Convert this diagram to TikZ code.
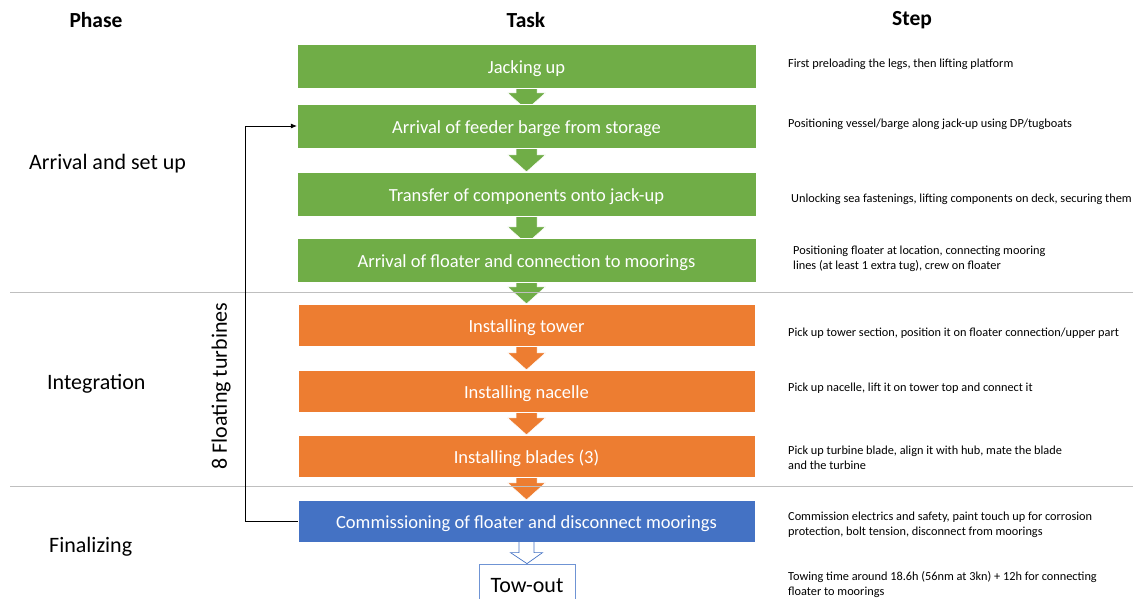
\documentclass[tikz,border=0pt]{standalone}
\usepackage{fontspec}
\setmainfont{Carlito}
\usetikzlibrary{calc,backgrounds,arrows.meta}
\definecolor{cgreen}{HTML}{70AD47}
\definecolor{corange}{HTML}{ED7D31}
\definecolor{cblue}{HTML}{4472C4}
\definecolor{clblue}{HTML}{6F94D4}
\definecolor{csep}{HTML}{BFBFBF}
\newcommand\blkarr[4]{%
  \fill[#3,draw=white,line width=0.5pt] let \p1=(#1.south), \p2=(#2.north) in
    (\x1-10.5pt,\y1+2pt) -- (\x1-10.5pt,\y2+17pt-#4) -- (\x1-19pt,\y2+17pt-#4) --
    (\x2,\y2-#4) -- (\x1+19pt,\y2+17pt-#4) -- (\x1+10.5pt,\y2+17pt-#4) --
    (\x1+10.5pt,\y1+2pt) -- cycle;}
\begin{document}
\begin{tikzpicture}[x=1pt,y=-1pt,
  task/.style={rectangle,draw=white,line width=0.4pt,text=white,minimum width=459pt,minimum height=44pt,inner sep=0pt,text height=15pt,text depth=1pt,font=\fontsize{18.5}{22}\selectfont},
  gtask/.style={task,fill=cgreen},
  otask/.style={task,fill=corange,minimum width=457pt,minimum height=42pt},
  btask/.style={task,fill=cblue,minimum width=457pt,minimum height=42pt},
  steptxt/.style={anchor=west,align=left,inner sep=0pt,font=\fontsize{12.3}{15}\selectfont},
  phase/.style={anchor=west,inner sep=0pt,font=\fontsize{22}{26}\selectfont},
  head/.style={inner sep=0pt,font=\fontsize{21.5}{25}\selectfont\bfseries},
  sep/.style={draw=csep,line width=0.8pt}]
\useasboundingbox (0,0) rectangle (1137,598);
% headers
\node[head] (hphase) at (96,20) {Phase};
\node[head] (htask) at (526,20) {Task};
\node[head] (hstep) at (912,20) {Step};
% separators
\coordinate (s1a) at (10,292); \coordinate (s1b) at (1133,292);
\coordinate (s2a) at (10,486); \coordinate (s2b) at (1133,486);
\draw[sep] (s1a) -- (s1b);
\draw[sep] (s2a) -- (s2b);
% phases
\node[phase] (p1) at (29,163.5) {Arrival and set up};
\node[phase] (p2) at (47,383.5) {Integration};
\node[phase] (p3) at (49,546.5) {Finalizing};
% tasks
\node[gtask] (g1) at (526.5,66) {Jacking up};
\node[gtask] (g2) at (526.5,126) {Arrival of feeder barge from storage};
\node[gtask] (g3) at (526.5,194) {Transfer of components onto jack-up};
\node[gtask] (g4) at (526.5,260) {Arrival of floater and connection to moorings};
\node[otask] (o1) at (526.5,325) {Installing tower};
\node[otask] (o2) at (526.5,391) {Installing nacelle};
\node[otask] (o3) at (526.5,456) {Installing blades (3)};
\node[btask] (b1) at (526.5,521) {Commissioning of floater and disconnect moorings};
\node[draw=clblue,fill=white,line width=0.8pt,minimum width=96pt,minimum height=44pt,inner sep=0pt,font=\fontsize{22}{26}\selectfont] (tow) at (527,586) {Tow-out};
% arrows behind
\begin{scope}[on background layer]
\blkarr{g1}{g2}{cgreen}{6pt}
\blkarr{g2}{g3}{cgreen}{0pt}
\blkarr{g3}{g4}{cgreen}{6pt}
\blkarr{g4}{o1}{cgreen}{0pt}
\blkarr{o1}{o2}{corange}{0pt}
\blkarr{o2}{o3}{corange}{0pt}
\blkarr{o3}{b1}{corange}{0pt}
\end{scope}
% hollow arrow to tow-out
\draw[cblue,fill=white,line width=0.7pt] let \p1=(b1.south), \p2=(tow.north) in
  (\x1-7.5pt,\y1) -- (\x1-7.5pt,\y2+11pt) -- (\x1-16pt,\y2+11pt) -- (\x2,\y2) --
  (\x1+16pt,\y2+11pt) -- (\x1+7.5pt,\y2+11pt) -- (\x1+7.5pt,\y1);
% loop connector
\draw[line width=0.6pt,-{Latex[length=6pt,width=5pt]}] (b1.west) -- ++(-53,0) |- (g2.west);
\node[rotate=90,inner sep=0pt,font=\fontsize{22}{26}\selectfont] (loop) at (221,386) {8 Floating turbines};
% steps
\node[steptxt] (t1) at (788,64) {First preloading the legs, then lifting platform};
\node[steptxt] (t2) at (788,124) {Positioning vessel/barge along jack-up using DP/tugboats};
\node[steptxt] (t3) at (791,199) {Unlocking sea fastenings, lifting components on deck, securing them};
\node[steptxt] (t4) at (793,259) {Positioning floater at location, connecting mooring\\lines (at least 1 extra tug), crew on floater};
\node[steptxt] (t5) at (788,333) {Pick up tower section, position it on floater connection/upper part};
\node[steptxt] (t6) at (788,388) {Pick up nacelle, lift it on tower top and connect it};
\node[steptxt] (t7) at (788,458) {Pick up turbine blade, align it with hub, mate the blade\\and the turbine};
\node[steptxt] (t8) at (788,525) {Commission electrics and safety, paint touch up for corrosion\\protection, bolt tension, disconnect from moorings};
\node[steptxt] (t9) at (788,585) {Towing time around 18.6h (56nm at 3kn) + 12h for connecting\\floater to moorings};
\end{tikzpicture}
\end{document}
